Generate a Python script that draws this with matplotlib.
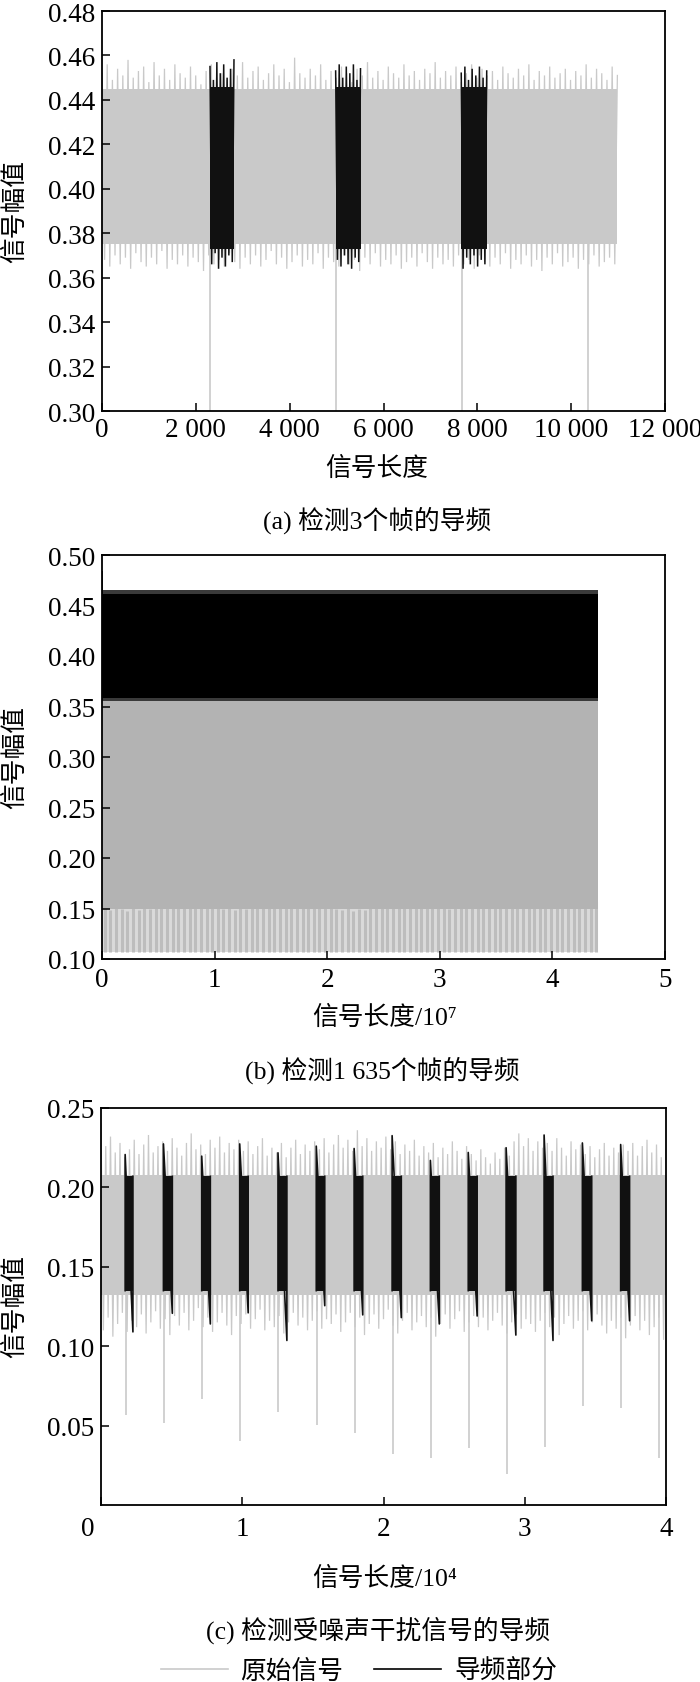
import matplotlib
matplotlib.use('Agg')
import matplotlib.pyplot as plt
import numpy as np
from matplotlib.lines import Line2D

plt.rcParams['font.family'] = ['Liberation Serif', 'Noto Sans CJK SC', 'DejaVu Sans']

GRAY = '#c9c9c9'
BLACK = '#111111'

# ---------------- (a) 检测3个帧的导频 ----------------
a_end = 10985
a_core = (0.375, 0.445)
a_up = [0.452, 0.456, 0.449, 0.454, 0.451, 0.458, 0.450, 0.453, 0.455, 0.448,
        0.457, 0.451, 0.454, 0.449, 0.456, 0.452, 0.450, 0.455, 0.451, 0.447,
        0.453, 0.456, 0.450, 0.452, 0.449, 0.454, 0.451, 0.457, 0.450, 0.453,
        0.455, 0.449, 0.452, 0.456, 0.451, 0.454, 0.448, 0.459, 0.452, 0.450,
        0.454, 0.451, 0.456, 0.449, 0.453, 0.450, 0.455, 0.452, 0.448, 0.454,
        0.451, 0.457, 0.450, 0.453, 0.449, 0.455, 0.452, 0.450, 0.456, 0.451,
        0.453, 0.449, 0.454, 0.452, 0.457, 0.450, 0.453, 0.451, 0.455, 0.448,
        0.452, 0.456, 0.450, 0.454, 0.451, 0.453, 0.449, 0.455, 0.452, 0.450,
        0.454, 0.451, 0.456, 0.449, 0.453, 0.451, 0.455, 0.450, 0.452, 0.454,
        0.449, 0.453, 0.451, 0.456, 0.450, 0.454, 0.452, 0.449, 0.455, 0.451]
a_dn = [0.368, 0.365, 0.370, 0.366, 0.369, 0.364, 0.371, 0.367, 0.365, 0.369,
        0.366, 0.372, 0.364, 0.368, 0.366, 0.370, 0.365, 0.369, 0.367, 0.363,
        0.370, 0.366, 0.368, 0.365, 0.371, 0.367, 0.364, 0.369, 0.366, 0.370,
        0.365, 0.368, 0.372, 0.366, 0.369, 0.364, 0.367, 0.370, 0.365, 0.368,
        0.366, 0.371, 0.364, 0.369, 0.367, 0.365, 0.370, 0.366, 0.368, 0.363,
        0.369, 0.366, 0.371, 0.365, 0.368, 0.366, 0.370, 0.364, 0.367, 0.369,
        0.365, 0.371, 0.367, 0.364, 0.369, 0.366, 0.368, 0.365, 0.370, 0.366,
        0.368, 0.364, 0.370, 0.367, 0.365, 0.369, 0.366, 0.371, 0.364, 0.368,
        0.366, 0.370, 0.365, 0.368, 0.363, 0.369, 0.366, 0.371, 0.365, 0.367,
        0.369, 0.364, 0.368, 0.366, 0.370, 0.365, 0.367, 0.369, 0.366, 0.368]
a_frame_x = [2302, 4985, 7665, 10350]
a_frame_low = 0.28
a_pilot = [(2302, 2813), (4980, 5510), (7657, 8200)]
a_pilot_core = (0.373, 0.446)
a_pilot_up = [[0.455, 0.449, 0.457, 0.452, 0.456, 0.450, 0.454, 0.458],
              [0.453, 0.456, 0.450, 0.455, 0.452, 0.456, 0.449, 0.454],
              [0.452, 0.455, 0.449, 0.454, 0.451, 0.455, 0.450, 0.453]]
a_pilot_dn = [[0.366, 0.371, 0.364, 0.369, 0.365, 0.370, 0.367, 0.363],
              [0.368, 0.365, 0.370, 0.366, 0.364, 0.369, 0.367, 0.365],
              [0.364, 0.369, 0.366, 0.370, 0.365, 0.368, 0.366, 0.369]]
a_xticks = [0, 2000, 4000, 6000, 8000, 10000, 12000]
a_xlabels = ['0', '2 000', '4 000', '6 000', '8 000', '10 000', '12 000']

# ---------------- (b) 检测1 635个帧的导频 ----------------
b_end = 4.405
b_gray = (0.150, 0.357)
b_black = (0.358, 0.461)
b_black_fringe = (0.355, 0.465)
b_start_spike = 0.484
b_floor = 0.107
b_wave = [0.151, 0.149, 0.152, 0.150, 0.148, 0.151, 0.149, 0.152, 0.150, 0.153,
          0.154, 0.156, 0.158, 0.157, 0.159, 0.157, 0.158, 0.156, 0.155, 0.153,
          0.152, 0.150, 0.151, 0.149, 0.152, 0.150, 0.153, 0.151, 0.154, 0.155,
          0.156, 0.158, 0.157, 0.159, 0.158, 0.160, 0.158, 0.157, 0.155, 0.153,
          0.152, 0.150, 0.149, 0.151, 0.148, 0.150, 0.149, 0.151, 0.152, 0.154,
          0.155, 0.157, 0.159, 0.158, 0.160, 0.158, 0.157, 0.155, 0.153, 0.152,
          0.151, 0.150, 0.152, 0.151, 0.153, 0.154, 0.156, 0.157, 0.159, 0.158,
          0.160, 0.159, 0.158, 0.156, 0.155, 0.153, 0.152, 0.151, 0.153, 0.154,
          0.156, 0.158, 0.157, 0.159, 0.157, 0.155, 0.154, 0.156]

# ---------------- (c) 检测受噪声干扰信号的导频 ----------------
c_end = 4.0
c_core = (0.132, 0.208)
c_up = [0.240, 0.226, 0.232, 0.222, 0.228, 0.219, 0.224, 0.230, 0.221, 0.227,
        0.233, 0.222, 0.226, 0.229, 0.223, 0.231, 0.225, 0.220, 0.228, 0.234,
        0.224, 0.227, 0.221, 0.230, 0.225, 0.232, 0.222, 0.228, 0.224, 0.230,
        0.223, 0.229, 0.221, 0.226, 0.231, 0.220, 0.225, 0.222, 0.228, 0.219,
        0.225, 0.230, 0.221, 0.227, 0.223, 0.229, 0.224, 0.231, 0.222, 0.227,
        0.233, 0.225, 0.230, 0.223, 0.236, 0.226, 0.231, 0.223, 0.229, 0.225,
        0.232, 0.224, 0.229, 0.221, 0.227, 0.223, 0.230, 0.220, 0.226, 0.222,
        0.228, 0.219, 0.225, 0.221, 0.229, 0.223, 0.218, 0.226, 0.221, 0.217,
        0.224, 0.219, 0.215, 0.222, 0.218, 0.225, 0.220, 0.229, 0.234, 0.226,
        0.231, 0.223, 0.229, 0.225, 0.228, 0.223, 0.231, 0.225, 0.220, 0.229,
        0.224, 0.227, 0.221, 0.226, 0.219, 0.224, 0.228, 0.220, 0.225, 0.222,
        0.227, 0.223, 0.228, 0.220, 0.226, 0.230, 0.222, 0.227, 0.219, 0.224]
c_dn = [0.110, 0.118, 0.106, 0.114, 0.121, 0.109, 0.116, 0.112, 0.120, 0.108,
        0.115, 0.122, 0.111, 0.117, 0.107, 0.119, 0.113, 0.121, 0.110, 0.116,
        0.124, 0.112, 0.118, 0.109, 0.115, 0.121, 0.113, 0.107, 0.119, 0.114,
        0.120, 0.111, 0.117, 0.123, 0.110, 0.116, 0.112, 0.119, 0.108, 0.115,
        0.121, 0.113, 0.118, 0.110, 0.116, 0.122, 0.111, 0.117, 0.114, 0.120,
        0.109, 0.115, 0.121, 0.112, 0.118, 0.107, 0.114, 0.120, 0.111, 0.117,
        0.123, 0.113, 0.108, 0.116, 0.121, 0.110, 0.115, 0.119, 0.112, 0.118,
        0.106, 0.114, 0.120, 0.111, 0.117, 0.122, 0.109, 0.115, 0.119, 0.112,
        0.118, 0.110, 0.116, 0.121, 0.113, 0.108, 0.115, 0.120, 0.111, 0.117,
        0.114, 0.109, 0.116, 0.121, 0.112, 0.118, 0.107, 0.114, 0.119, 0.111,
        0.116, 0.122, 0.110, 0.115, 0.120, 0.113, 0.108, 0.116, 0.111, 0.118,
        0.105, 0.113, 0.119, 0.110, 0.116, 0.107, 0.112, 0.118, 0.104, 0.110]
c_frame_x = [0.176, 0.445, 0.716, 0.987, 1.255, 1.526, 1.795, 2.066,
             2.334, 2.605, 2.874, 3.145, 3.413, 3.684, 3.953]
c_frame_low = [0.0565, 0.0517, 0.067, 0.040, 0.0586, 0.0502, 0.0454, 0.032,
               0.0297, 0.036, 0.0195, 0.0366, 0.0621, 0.0613, 0.0297]
c_pilot_start = [0.171, 0.442, 0.713, 0.982, 1.253, 1.524, 1.792,
                 2.061, 2.332, 2.600, 2.868, 3.137, 3.408, 3.679]
c_pilot_end = [0.226, 0.505, 0.774, 1.042, 1.316, 1.584, 1.853,
               2.126, 2.395, 2.663, 2.937, 3.200, 3.474, 3.742]
c_pilot_core = (0.135, 0.207)
c_pilot_top = [0.2207, 0.2274, 0.2197, 0.2274, 0.2218, 0.226, 0.2245,
               0.2326, 0.217, 0.222, 0.225, 0.233, 0.228, 0.227]
c_pilot_bot = [0.109, 0.1207, 0.114, 0.121, 0.1036, 0.1255, 0.1197,
               0.118, 0.114, 0.119, 0.107, 0.1036, 0.116, 0.116]

W, H = 700, 1683
fig = plt.figure(figsize=(W / 100, H / 100), dpi=100)
ax_a = fig.add_axes([102 / W, 1 - 412 / H, 563 / W, 400 / H])
ax_b = fig.add_axes([102 / W, 1 - 960 / H, 563 / W, 404 / H])
ax_c = fig.add_axes([101 / W, 1 - 1506 / H, 565 / W, 397 / H])

TICK_FS = 19.5
CJK_FS = 18.5


def style(ax, xpad):
    for s in ax.spines.values():
        s.set_linewidth(1.3)
    ax.tick_params(direction='in', length=6, width=1.1, labelsize=TICK_FS)
    ax.tick_params(axis='x', pad=xpad)
    ax.tick_params(axis='y', pad=5)


def zigzag(ax, x0, x1, core, up, dn, color, lw=0.9, z=1):
    # 信号在峰值与谷值之间来回振荡
    ax.fill_between([x0, x1], core[0], core[1], color=color, lw=0, zorder=z)
    n = min(len(up), len(dn))
    xp = np.linspace(x0, x1, n)
    half = (x1 - x0) / (n - 1) / 2 if n > 1 else 0
    xs = np.ravel(np.column_stack([xp, xp + half]))[:-1]
    ys = np.ravel(np.column_stack([up[:n], dn[:n]]))[:-1]
    ax.plot(xs, ys, color=color, lw=lw, zorder=z, solid_joinstyle='miter')


# (a)
zigzag(ax_a, 0, a_end, a_core, a_up, a_dn, GRAY)
ax_a.vlines(a_frame_x, a_frame_low, a_core[0], colors=GRAY, lw=1.2, zorder=1)
for (s, e), up, dn in zip(a_pilot, a_pilot_up, a_pilot_dn):
    zigzag(ax_a, s, e, a_pilot_core, up, dn, BLACK, lw=1.1, z=2)
ax_a.set_xlim(0, 12000)
ax_a.set_ylim(0.30, 0.48)
ax_a.set_xticks(a_xticks)
ax_a.set_xticklabels(a_xlabels)
ax_a.set_yticks(np.arange(0.30, 0.4801, 0.02))
ax_a.yaxis.set_major_formatter(plt.FormatStrFormatter('%.2f'))
style(ax_a, 4)

# (b)
ax_b.fill_between([0, b_end], b_floor, b_gray[0] + 0.01, color='#dadada', lw=0, zorder=1)
bx = np.linspace(0.025, b_end - 0.015, len(b_wave))
ax_b.vlines(bx, b_floor, b_wave, colors='#bdbdbd', lw=2.2, zorder=1)
ax_b.fill_between([0, b_end], b_gray[0], b_gray[1], color='#b3b3b3', lw=0, zorder=1)
ax_b.fill_between([0, b_end], b_black_fringe[0], b_black_fringe[1], color='#3a3a3a', lw=0, zorder=2)
ax_b.fill_between([0, b_end], b_black[0], b_black[1], color='black', lw=0, zorder=2)
ax_b.vlines([0.004], b_black[1], b_start_spike, colors='black', lw=1.2, zorder=2)
ax_b.set_xlim(0, 5)
ax_b.set_ylim(0.10, 0.50)
ax_b.set_xticks(range(6))
ax_b.set_yticks(np.arange(0.10, 0.5001, 0.05))
ax_b.yaxis.set_major_formatter(plt.FormatStrFormatter('%.2f'))
style(ax_b, 6)

# (c)
zigzag(ax_c, 0, c_end, c_core, c_up, c_dn, GRAY)
ax_c.vlines(c_frame_x, c_frame_low, c_core[0], colors=GRAY, lw=1.2, zorder=1)
for s, e, t, b in zip(c_pilot_start, c_pilot_end, c_pilot_top, c_pilot_bot):
    ax_c.fill_between([s, e], c_pilot_core[0], c_pilot_core[1], color=BLACK, lw=0, zorder=2)
    ax_c.plot([s, s, e, e], [c_pilot_core[0], t, b, c_pilot_core[1]], color=BLACK, lw=1.2, zorder=2)
ax_c.set_xlim(0, 4)
ax_c.set_ylim(0, 0.25)
ax_c.set_xticks(range(5))
ax_c.set_xticklabels(['', '1', '2', '3', '4'])
ax_c.set_yticks([0.05, 0.10, 0.15, 0.20, 0.25])
ax_c.yaxis.set_major_formatter(plt.FormatStrFormatter('%.2f'))
style(ax_c, 8)
fig.text(88 / W, 1 - 1530 / H, '0', fontsize=TICK_FS, ha='center', va='center')

# 坐标轴标题与子图标题
for yc in (212, 758, 1307):
    fig.text(15 / W, 1 - yc / H, '信号幅值', rotation=90, fontsize=CJK_FS,
             ha='center', va='center')
fig.text(377 / W, 1 - 469 / H, '信号长度', fontsize=CJK_FS, ha='center', va='center')
fig.text(377 / W, 1 - 520 / H, '(a) 检测3个帧的导频', fontsize=CJK_FS, ha='center', va='center')
fig.text(385 / W, 1 - 1018 / H, '信号长度/10\u2077', fontsize=CJK_FS, ha='center', va='center')
fig.text(382 / W, 1 - 1070 / H, '(b) 检测1 635个帧的导频', fontsize=CJK_FS, ha='center', va='center')
fig.text(385 / W, 1 - 1579 / H, '信号长度/10\u2074', fontsize=CJK_FS, ha='center', va='center')
fig.text(378 / W, 1 - 1630 / H, '(c) 检测受噪声干扰信号的导频', fontsize=CJK_FS, ha='center', va='center')

handles = [Line2D([], [], color=GRAY, lw=1.2), Line2D([], [], color='black', lw=1.2)]
fig.legend(handles, ['原始信号', '导频部分'], loc='center', bbox_to_anchor=(359 / W, 1 - 1672 / H),
           ncol=2, frameon=False, fontsize=CJK_FS, handlelength=2.6, handletextpad=0.5,
           columnspacing=1.2, borderpad=0, borderaxespad=0)

fig.savefig('out.png', dpi=100)
